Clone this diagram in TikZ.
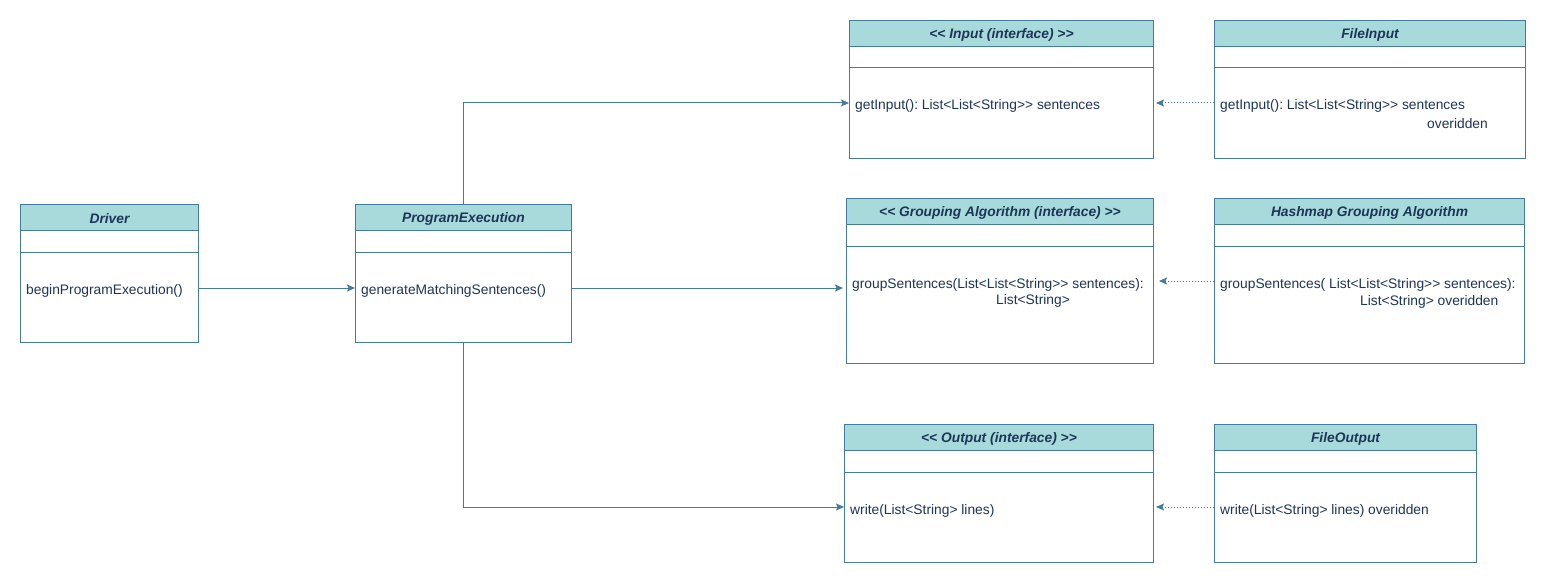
\documentclass[tikz,border=0pt]{standalone}
\usepackage{fontspec}
\setmainfont{Liberation Sans}[Ligatures=TeXOff]
\usetikzlibrary{arrows.meta,calc}
\definecolor{hdr}{HTML}{A8DADC}
\definecolor{strk}{HTML}{457B9D}
\definecolor{txt}{HTML}{1D3557}
\frenchspacing
\tikzset{
  classbox/.style={draw=strk, line width=1pt, fill=white, rectangle, inner sep=0pt, anchor=north west},
  hdrbox/.style={draw=strk, line width=1pt, fill=hdr, rectangle, inner sep=0pt, minimum height=26pt, anchor=north west},
  hdrtext/.style={inner sep=0pt, text=txt, font=\fontsize{13.8}{16}\selectfont\bfseries\itshape\frenchspacing},
  meth/.style={inner sep=0pt, anchor=west, text=txt, font=\fontsize{13.8}{16}\selectfont\frenchspacing},
  conn/.style={draw=strk, line width=1pt, -{Stealth[length=8pt,width=7pt,inset=1.5pt]}},
  impl/.style={draw=strk, line width=1pt, dash pattern=on 1pt off 2pt, -{Stealth[length=8pt,width=7pt,inset=1.5pt]}},
}
\newcommand\umlbox[6]{%
  \node[classbox, minimum width=#4pt, minimum height=#5pt] (#1) at (#2,#3) {};
  \node[hdrbox, minimum width=#4pt] (#1-h) at (#2,#3) {};
  \node[hdrtext] (#1-t) at ($(#1-h.center)+(0,1)$) {#6};
  \draw[draw=strk, line width=1pt] ($(#1.north west)+(0,48)$) -- ($(#1.north east)+(0,48)$);
}
\begin{document}
\begin{tikzpicture}[x=1pt,y=-1pt]
\useasboundingbox (0,0) rectangle (1546,583);
\umlbox{drv}{20}{204}{178}{138}{Driver}
\umlbox{pe}{355}{204}{216}{138}{ProgramExecution}
\umlbox{inp}{849}{20}{304}{138}{<< Input (interface) >>}
\umlbox{finp}{1214}{20}{311}{138}{FileInput}
\umlbox{grp}{846}{198}{307}{165}{<< Grouping Algorithm (interface) >>}
\umlbox{hgrp}{1214}{198}{310}{165}{Hashmap Grouping Algorithm}
\umlbox{out}{844}{424}{309}{138}{<< Output (interface) >>}
\umlbox{fout}{1214}{424}{262}{138}{FileOutput}

\node[meth] (drvm) at (26,290.5) {beginProgramExecution()};
\node[meth] (pem) at (361,290.5) {generateMatchingSentences()};
\node[meth] (inpm) at (855,105.5) {getInput(): List<List<String>> sentences};
\node[meth] (finpm) at (1220,105.5) {getInput(): List<List<String>> sentences};
\node[meth] (finpm2) at (1427,123.5) {overidden};
\node[meth] (grpm) at (852,284.5) {groupSentences(List<List<String>> sentences):};
\node[meth] (grpm2) at (996,300.5) {List<String>};
\node[meth] (hgrpm) at (1220,284.5) {groupSentences( List<List<String>> sentences):};
\node[meth] (hgrpm2) at (1360,301.5) {List<String> overidden};
\node[meth] (outm) at (850,510.5) {write(List<String> lines)};
\node[meth] (foutm) at (1220,510.5) {write(List<String> lines) overidden};

\coordinate (c1) at (0,288);
\coordinate (c2) at (0,103);
\coordinate (c3) at (0,507);
\coordinate (c4) at (0,281);

\draw[conn] (drv.east |- c1) -- (pe.west |- c1);
\draw[conn] (pe.north) |- (inp.west |- c2);
\draw[conn] (pe.east |- c1) -- ($(grp.west |- c1)+(-3,0)$);
\draw[conn] (pe.south) |- (out.west |- c3);

\draw[impl] (finp.west |- c2) -- ($(inp.east |- c2)+(2,0)$);
\draw[impl] (hgrp.west |- c4) -- ($(grp.east |- c4)+(5,0)$);
\draw[impl] (fout.west |- c3) -- ($(out.east |- c3)+(2,0)$);
\end{tikzpicture}
\end{document}
